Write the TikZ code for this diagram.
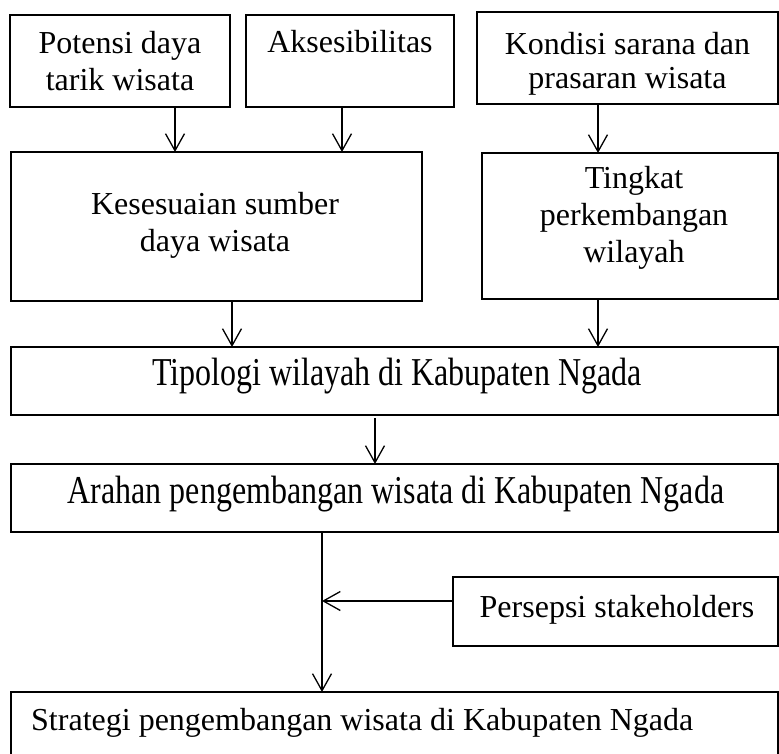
\documentclass[tikz,border=0pt]{standalone}
\usepackage{fontspec}
\setmainfont{Liberation Serif}
\newfontfamily\condserif[FakeStretch=0.81]{Liberation Serif}
\usetikzlibrary{arrows.meta}
\begin{document}
\begin{tikzpicture}[x=1pt,y=-1pt,
  box/.style={draw, line width=1.3pt, inner sep=0pt, outer sep=0pt},
  txt/.style={font=\fontsize{32}{37}\selectfont, align=center, inner sep=0pt,
    execute at begin node=\strut, execute at end node=\strut},
  line/.style={font=\fontsize{32}{37}\selectfont, inner sep=0pt, anchor=base},
  tallline/.style={font=\condserif\fontsize{39.5}{45}\selectfont, inner sep=0pt, anchor=base},
  arr/.style={line width=1.3pt, -{Straight Barb[length=17pt,width=19pt,line width=1.3pt]}}]
\useasboundingbox (0,0) rectangle (779,754);
% boxes
\node[box, minimum width=220pt, minimum height=92pt] (b1) at (120,61) {};
\node[box, minimum width=208pt, minimum height=92pt] (b2) at (350,61) {};
\node[box, minimum width=301pt, minimum height=92pt] (b3) at (627.5,58) {};
\node[box, minimum width=411pt, minimum height=149pt] (b4) at (216.5,226.5) {};
\node[box, minimum width=296pt, minimum height=146pt] (b5) at (630,226) {};
\node[box, minimum width=767pt, minimum height=68pt] (b6) at (394.5,381) {};
\node[box, minimum width=767pt, minimum height=68pt] (b7) at (394.5,498) {};
\node[box, minimum width=325pt, minimum height=69pt] (b8) at (615.5,611.5) {};
\node[box, minimum width=767pt, minimum height=78pt] (b9) at (394.5,731) {};
% texts
\node[txt] (t1) at (120,66.1) {Potensi daya\\tarik wisata};
\node[line] (t2) at (350,53) {Aksesibilitas};
\node[txt, font=\fontsize{32}{34}\selectfont] (t3) at (627.5,65.2) {Kondisi sarana dan\\prasaran wisata};
\node[txt] (t4) at (215,227.6) {Kesesuaian sumber\\daya wisata};
\node[txt] (t5) at (634,220.1) {Tingkat\\perkembangan\\wilayah};
\node[tallline] (t6) at (397,385) {Tipologi wilayah di Kabupaten Ngada};
\node[tallline] (t7) at (396,503) {Arahan pengembangan wisata di Kabupaten Ngada};
\node[line] (t8) at (617,617) {Persepsi stakeholders};
\node[line, anchor=base west] (t9) at (31,730) {Strategi pengembangan wisata di Kabupaten Ngada};
% connectors
\draw[arr] (b1.south -| 175,0) -- (b4.north -| 175,0);
\draw[arr] (b2.south -| 342,0) -- (b4.north -| 342,0);
\draw[arr] (b3.south -| 598,0) -- (b5.north -| 598,0);
\draw[arr] (b4.south -| 232,0) -- (b6.north -| 232,0);
\draw[arr] (b5.south -| 598,0) -- (b6.north -| 598,0);
\draw[arr] ([yshift=-3pt]b6.south -| 375,0) -- (b7.north -| 375,0);
\draw[arr] (b7.south -| 322,0) -- (b9.north -| 322,0);
\coordinate (j) at ([yshift=10.5pt]b8.west -| 322,0);
\draw[arr] ([yshift=10.5pt]b8.west) -- (j);
\end{tikzpicture}
\end{document}
